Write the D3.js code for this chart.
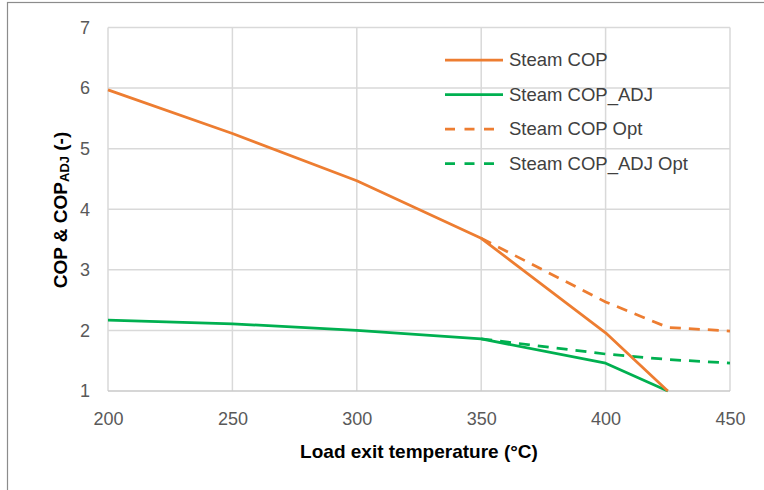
<!DOCTYPE html>
<html>
<head>
<meta charset="utf-8">
<script src="https://cdn.jsdelivr.net/npm/d3@7"></script>
<style>
  html, body { margin: 0; padding: 0; background: #fff; }
  svg { display: block; }
</style>
</head>
<body>
<svg id="chart" width="764" height="490"></svg>
<script>
// Load exit temperature (°C) and the COP series
const steamCopTemps   = [200, 250, 300, 350, 400, 425];
const steamCop        = [5.97, 5.25, 4.47, 3.52, 1.96, 1.0];
const steamCopAdj     = [2.17, 2.11, 2.00, 1.86, 1.46, 1.0];

const optTemps        = [350, 400, 425, 450];
const steamCopOpt     = [3.52, 2.47, 2.05, 1.99];
const steamCopAdjOpt  = [1.86, 1.61, 1.52, 1.46];

const xTicks = [200, 250, 300, 350, 400, 450];
const yTicks = [1, 2, 3, 4, 5, 6, 7];

const seriesNames = ["Steam COP", "Steam COP_ADJ", "Steam COP Opt", "Steam COP_ADJ Opt"];

const ORANGE = "#ED7D31";
const GREEN = "#00B050";
const FONT = "'Liberation Sans', Arial, sans-serif";

const svg = d3.select("#chart");

// outer chart frame
svg.append("rect")
  .attr("x", 7.5).attr("y", 2.5)
  .attr("width", 800).attr("height", 520)
  .attr("fill", "#fff")
  .attr("stroke", "#8c8c8c").attr("stroke-width", 1.2);

const x = d3.scaleLinear().domain([200, 450]).range([108, 730]);
const y = d3.scaleLinear().domain([1, 7]).range([391, 27.5]);

// gridlines
const grid = svg.append("g");
grid.selectAll("line.v").data(xTicks).join("line")
  .attr("x1", d => x(d)).attr("x2", d => x(d))
  .attr("y1", y(7)).attr("y2", y(1))
  .attr("stroke", "#d9d9d9").attr("stroke-width", 1.5);
grid.selectAll("line.h").data(yTicks).join("line")
  .attr("x1", x(200)).attr("x2", x(450))
  .attr("y1", d => y(d)).attr("y2", d => y(d))
  .attr("stroke", d => d === 1 ? "#c8c8c8" : "#d9d9d9").attr("stroke-width", 1.5);

// axes (labels only; lines come from the grid)
const xAxis = svg.append("g")
  .attr("transform", `translate(0, ${y(1)})`)
  .call(d3.axisBottom(x).tickValues(xTicks).tickSize(0).tickPadding(21).tickFormat(d3.format("d")));
xAxis.select(".domain").remove();
xAxis.selectAll("text")
  .attr("font-family", FONT).attr("font-size", 18).attr("fill", "#595959");

const yAxis = svg.append("g")
  .attr("transform", `translate(${x(200)}, 0)`)
  .call(d3.axisLeft(y).tickValues(yTicks).tickSize(0).tickPadding(18).tickFormat(d3.format("d")));
yAxis.select(".domain").remove();
yAxis.selectAll("text")
  .attr("font-family", FONT).attr("font-size", 18).attr("fill", "#595959");

// axis titles
svg.append("text")
  .attr("x", 419).attr("y", 458)
  .attr("text-anchor", "middle")
  .attr("font-family", FONT).attr("font-size", 19).attr("font-weight", "bold")
  .attr("fill", "#000")
  .text("Load exit temperature (°C)");

const yTitle = svg.append("text")
  .attr("transform", "translate(67, 210) rotate(-90)")
  .attr("text-anchor", "middle")
  .attr("font-family", FONT).attr("font-size", 19).attr("font-weight", "bold")
  .attr("fill", "#000");
yTitle.append("tspan").text("COP & COP");
yTitle.append("tspan").attr("font-size", 13).attr("dy", 1.5).text("ADJ");
yTitle.append("tspan").attr("dy", -1.5).text(" (-)");

// series lines
const line = d3.line().x(d => x(d[0])).y(d => y(d[1]));
const zip = (xs, ys) => xs.map((v, i) => [v, ys[i]]);

const series = [
  { name: seriesNames[0], pts: zip(steamCopTemps, steamCop), color: ORANGE, dash: null },
  { name: seriesNames[1], pts: zip(steamCopTemps, steamCopAdj), color: GREEN, dash: null },
  { name: seriesNames[2], pts: zip(optTemps, steamCopOpt), color: ORANGE, dash: "11,8" },
  { name: seriesNames[3], pts: zip(optTemps, steamCopAdjOpt), color: GREEN, dash: "11,8" }
];

const drawOrder = [3, 2, 1, 0];
svg.append("g").selectAll("path")
  .data(drawOrder.map(i => series[i]))
  .join("path")
  .attr("d", d => line(d.pts))
  .attr("fill", "none")
  .attr("stroke", d => d.color)
  .attr("stroke-width", 2.75)
  .attr("stroke-linejoin", "round")
  .attr("stroke-dasharray", d => d.dash);

// legend
const legend = svg.append("g");
const rowY = [60, 94.5, 129, 163.5];
series.forEach((s, i) => {
  legend.append("line")
    .attr("x1", 445).attr("x2", 503)
    .attr("y1", rowY[i]).attr("y2", rowY[i])
    .attr("stroke", s.color).attr("stroke-width", 2.75)
    .attr("stroke-dasharray", s.dash ? "10,9.5" : null);
  legend.append("text")
    .attr("x", 509).attr("y", rowY[i])
    .attr("dy", "0.35em")
    .attr("font-family", FONT).attr("font-size", 18.5)
    .attr("fill", "#404040")
    .text(s.name);
});
</script>
</body>
</html>
